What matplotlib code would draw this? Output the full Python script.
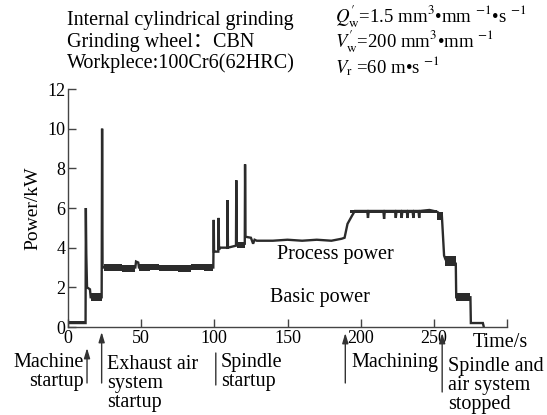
import numpy as np
import matplotlib.pyplot as plt

plt.rcParams['font.family'] = ['Liberation Serif', 'Noto Sans CJK SC', 'DejaVu Serif']
plt.rcParams['mathtext.fontset'] = 'stix'

# power trace (centre line), time in s, power in kW
time_s = [0, 12.0, 12.2, 12.5, 13.0, 15.0, 15.5, 23.0, 23.3, 23.6, 24.5,
          46.0, 46.5, 48.0, 48.5, 99.3, 99.6, 99.8, 100.2, 102.7, 102.9,
          103.2, 104.0, 108.8, 109.0, 109.3, 114.8, 115.0, 115.3, 120.8,
          121.0, 121.3, 125.0, 126.5, 127.5, 129.0, 140.0, 150.0, 160.0,
          170.0, 180.0, 187.0, 189.0, 191.0, 194.0, 196.0, 204.5, 205.0,
          205.5, 215.5, 216.0, 216.5, 223.5, 224.0, 224.5, 227.5, 228.0,
          228.5, 231.5, 232.0, 232.5, 235.5, 236.0, 236.5, 239.5, 240.0,
          240.5, 247.0, 250.0, 252.5, 255.5, 257.0, 258.0, 262.0, 265.0,
          265.3, 275.0, 275.3, 283.5, 284.0]
power_kw = [0.2, 0.2, 6.0, 3.7, 2.0, 1.9, 1.5, 1.5, 10.0, 3.0, 3.0,
            3.0, 3.3, 3.25, 3.0, 3.0, 5.4, 3.8, 3.8, 3.8, 5.5,
            3.9, 4.0, 4.0, 6.4, 4.0, 4.1, 7.4, 4.2, 4.2,
            8.2, 4.55, 4.5, 4.2, 4.4, 4.35, 4.35, 4.4, 4.35,
            4.4, 4.35, 4.45, 4.5, 5.2, 5.6, 5.85, 5.85, 5.5,
            5.85, 5.85, 5.45, 5.85, 5.85, 5.5, 5.85, 5.85, 5.5,
            5.85, 5.85, 5.5, 5.85, 5.85, 5.5, 5.85, 5.85, 5.5,
            5.85, 5.9, 5.85, 5.8, 5.6, 3.6, 3.4, 3.3, 3.2,
            1.5, 1.5, 0.2, 0.2, 0.05]

# noisy (thick) stretches of the trace
band_start = [0.0, 15.5, 24.5, 37.0, 48.5, 56.0, 62.0, 75.0, 84.0, 93.0,
              115.3, 193.0, 252.5, 257.5, 265.3]
band_end = [12.0, 23.0, 37.0, 46.0, 56.0, 62.0, 75.0, 84.0, 93.0, 99.3,
            120.8, 252.5, 256.0, 265.0, 275.0]
band_low = [0.15, 1.3, 2.8, 2.75, 2.8, 2.85, 2.8, 2.75, 2.85, 2.8,
            4.0, 5.75, 5.4, 3.1, 1.3]
band_high = [0.3, 1.7, 3.2, 3.15, 3.2, 3.2, 3.15, 3.15, 3.2, 3.2,
             4.3, 5.92, 5.8, 3.6, 1.7]

xticks = [0, 50, 100, 150, 200, 250, 300]
xtick_labels = ['0', '50', '100', '150', '200', '250', '']
yticks = [0, 2, 4, 6, 8, 10, 12]

# events below the time axis: time, head y, tail y (image px), arrow?
event_t = [13.0, 23.0, 101.0, 189.5, 255.7]
event_head = [348, 332, 353, 333, 333]
event_tail = [383, 383, 385, 383, 392]
event_arrow = [True, True, False, True, True]

W, H = 547, 415
fig = plt.figure(figsize=(W / 100, H / 100), dpi=100)
ax = fig.add_axes([68 / W, 1 - 327 / H, (507 - 68) / W, (327 - 89) / H])

trace = '#2b2b2b'
for s, e, lo, hi in zip(band_start, band_end, band_low, band_high):
    ax.fill_between([s, e], [lo, lo], [hi, hi], color=trace, lw=0)
ax.plot(time_s, power_kw, color=trace, lw=1.7, solid_joinstyle='miter')

ax.set_xlim(0, 300)
ax.set_ylim(0, 12)
ax.set_xticks(xticks)
ax.set_xticklabels(xtick_labels)
ax.set_yticks(yticks)
for side in ['top', 'right']:
    ax.spines[side].set_visible(False)
for side in ['left', 'bottom']:
    ax.spines[side].set_color('#444444')
    ax.spines[side].set_linewidth(1.0)
ax.tick_params(direction='in', length=6, width=1.0, color='#444444',
               labelsize=13, pad=2)
ax.set_ylabel('Power/kW', fontsize=14, labelpad=4)

fs = 14.5
fig.text(277 / W, 1 - 255 / H, 'Process power', fontsize=fs,
         va='center', ha='left')
fig.text(270 / W, 1 - 297 / H, 'Basic power', fontsize=fs,
         va='center', ha='left')
fig.text(473 / W, 1 - 342 / H, 'Time/s', fontsize=fs, va='center')

left_hdr = ['Internal cylindrical grinding', 'Grinding wheel：CBN',
            'Workplece:100Cr6(62HRC)']
right_hdr = [r"$Q_{\mathrm{w}}^{\prime}$=1.5 mm$^3$•mm $^{-1}$•s $^{-1}$",
             r"$V_{\mathrm{w}}^{\prime}$=200 mm$^3$•mm $^{-1}$",
             r"$V_{\mathrm{r}}$ =60 m•s $^{-1}$"]
hdr_y = [21, 42, 63]
for txt, y in zip(left_hdr, hdr_y):
    fig.text(67 / W, 1 - y / H, txt, fontsize=fs, va='center')
for txt, y in zip(right_hdr, [17, 42, 66]):
    fig.text(335 / W, 1 - y / H, txt, fontsize=13.5, va='center')

for t, y0, y1, has_head in zip(event_t, event_head, event_tail, event_arrow):
    style = '-|>,head_length=0.6,head_width=0.18' if has_head else '-'
    ax.annotate('', xy=(t, H - y0), xytext=(t, H - y1),
                xycoords=('data', 'figure pixels'),
                textcoords=('data', 'figure pixels'),
                arrowprops=dict(arrowstyle=style, color='#333333', lw=1.0,
                                shrinkA=0, shrinkB=0),
                annotation_clip=False)

fig.text(84 / W, 1 - 372 / H, 'Machine\nstartup', fontsize=fs,
         ha='right', va='center', linespacing=1.0, multialignment='right')
fig.text(107 / W, 1 - 383 / H, 'Exhaust air\nsystem\nstartup', fontsize=fs,
         ha='left', va='center', linespacing=1.0)
fig.text(221 / W, 1 - 372 / H, 'Spindle\nstartup', fontsize=fs,
         ha='left', va='center', linespacing=1.0)
fig.text(351 / W, 1 - 362 / H, 'Machining', fontsize=fs,
         ha='left', va='center')
fig.text(448 / W, 1 - 385 / H, 'Spindle and\nair system\nstopped',
         fontsize=fs, ha='left', va='center', linespacing=1.0)

fig.savefig('out.png', dpi=100)
